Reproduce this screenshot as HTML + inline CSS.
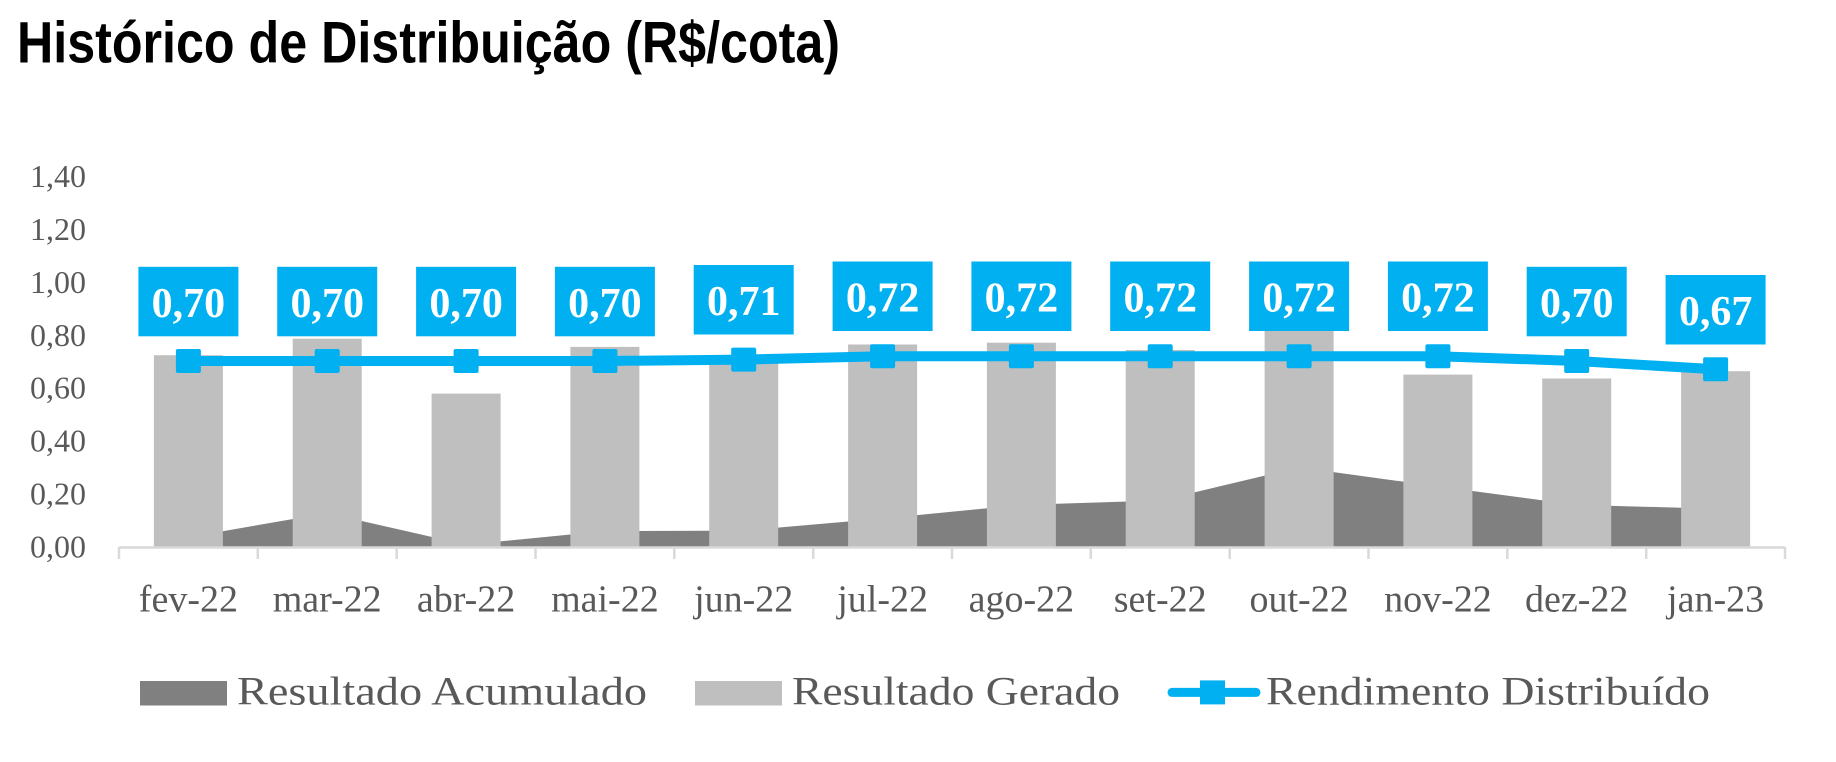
<!DOCTYPE html>
<html><head><meta charset="utf-8"><style>
html,body{margin:0;padding:0;background:#fff;}
svg{display:block;}
</style></head><body>
<svg width="1836" height="762" viewBox="0 0 1836 762" xmlns="http://www.w3.org/2000/svg">
<text x="17" y="62.5" font-family="Liberation Sans, Arial, sans-serif" font-weight="bold" font-size="58" textLength="823" lengthAdjust="spacingAndGlyphs" fill="#000">Histórico de Distribuição (R$/cota)</text>

<g font-family="Liberation Serif, serif" font-size="32" fill="#595959" text-anchor="end">
<text x="86" y="557.6">0,00</text>
<text x="86" y="504.6">0,20</text>
<text x="86" y="451.7">0,40</text>
<text x="86" y="398.7">0,60</text>
<text x="86" y="345.8">0,80</text>
<text x="86" y="292.8">1,00</text>
<text x="86" y="239.8">1,20</text>
<text x="86" y="186.9">1,40</text>
</g>

<polygon fill="#808080" points="188.4,546.6 188.4,537.2 327.2,513.1 466.1,544.7 604.9,531.1 743.7,530.6 882.6,518.5 1021.4,504.9 1160.2,500.5 1299.1,467.4 1437.9,486.4 1576.7,504.9 1715.6,508.7 1715.6,546.6"/>

<g fill="#bfbfbf">
<rect x="153.9" y="355.2" width="69" height="191.4"/>
<rect x="292.7" y="338.7" width="69" height="207.9"/>
<rect x="431.6" y="393.6" width="69" height="153"/>
<rect x="570.4" y="346.9" width="69" height="199.7"/>
<rect x="709.2" y="360" width="69" height="186.6"/>
<rect x="848.1" y="344.5" width="69" height="202.1"/>
<rect x="986.9" y="342.7" width="69" height="203.9"/>
<rect x="1125.7" y="350" width="69" height="196.6"/>
<rect x="1264.6" y="322" width="69" height="224.6"/>
<rect x="1403.4" y="374.6" width="69" height="172"/>
<rect x="1542.2" y="378.5" width="69" height="168.1"/>
<rect x="1681.1" y="371.2" width="69" height="175.4"/>
</g>

<g stroke="#d9d9d9" stroke-width="2.5">
<line x1="119" y1="547.5" x2="1785" y2="547.5"/>
<line x1="119" y1="547" x2="119" y2="559"/>
<line x1="257.8" y1="547" x2="257.8" y2="559"/>
<line x1="396.7" y1="547" x2="396.7" y2="559"/>
<line x1="535.5" y1="547" x2="535.5" y2="559"/>
<line x1="674.3" y1="547" x2="674.3" y2="559"/>
<line x1="813.2" y1="547" x2="813.2" y2="559"/>
<line x1="952" y1="547" x2="952" y2="559"/>
<line x1="1090.8" y1="547" x2="1090.8" y2="559"/>
<line x1="1229.7" y1="547" x2="1229.7" y2="559"/>
<line x1="1368.5" y1="547" x2="1368.5" y2="559"/>
<line x1="1507.3" y1="547" x2="1507.3" y2="559"/>
<line x1="1646.2" y1="547" x2="1646.2" y2="559"/>
<line x1="1785" y1="547" x2="1785" y2="559"/>
</g>

<polyline fill="none" stroke="#00b0f0" stroke-width="10" stroke-linejoin="round" points="188.4,361 327.2,361 466.1,361 604.9,361 743.7,359.6 882.6,356.2 1021.4,356.2 1160.2,356.2 1299.1,356.2 1437.9,356.2 1576.7,361 1715.6,369.3"/>
<g fill="#00b0f0">
<rect x="175.9" y="349" width="25" height="24" rx="2"/>
<rect x="314.7" y="349" width="25" height="24" rx="2"/>
<rect x="453.6" y="349" width="25" height="24" rx="2"/>
<rect x="592.4" y="349" width="25" height="24" rx="2"/>
<rect x="731.2" y="347.6" width="25" height="24" rx="2"/>
<rect x="870.1" y="344.2" width="25" height="24" rx="2"/>
<rect x="1008.9" y="344.2" width="25" height="24" rx="2"/>
<rect x="1147.7" y="344.2" width="25" height="24" rx="2"/>
<rect x="1286.6" y="344.2" width="25" height="24" rx="2"/>
<rect x="1425.4" y="344.2" width="25" height="24" rx="2"/>
<rect x="1564.2" y="349" width="25" height="24" rx="2"/>
<rect x="1703.1" y="357.3" width="25" height="24" rx="2"/>
</g>

<g fill="#00b0f0">
<rect x="138.4" y="266.8" width="100" height="69.5"/>
<rect x="277.2" y="266.8" width="100" height="69.5"/>
<rect x="416.1" y="266.8" width="100" height="69.5"/>
<rect x="554.9" y="266.8" width="100" height="69.5"/>
<rect x="693.7" y="265" width="100" height="69.5"/>
<rect x="832.6" y="261.5" width="100" height="69.5"/>
<rect x="971.4" y="261.5" width="100" height="69.5"/>
<rect x="1110.2" y="261.5" width="100" height="69.5"/>
<rect x="1249.1" y="261.5" width="100" height="69.5"/>
<rect x="1387.9" y="261.5" width="100" height="69.5"/>
<rect x="1526.7" y="266.8" width="100" height="69.5"/>
<rect x="1665.6" y="275" width="100" height="69.5"/>
</g>
<g font-family="Liberation Serif, serif" font-weight="bold" font-size="42" fill="#fff" text-anchor="middle">
<text x="188.4" y="317">0,70</text>
<text x="327.2" y="317">0,70</text>
<text x="466.1" y="317">0,70</text>
<text x="604.9" y="317">0,70</text>
<text x="743.7" y="315.2">0,71</text>
<text x="882.6" y="311.7">0,72</text>
<text x="1021.4" y="311.7">0,72</text>
<text x="1160.2" y="311.7">0,72</text>
<text x="1299.1" y="311.7">0,72</text>
<text x="1437.9" y="311.7">0,72</text>
<text x="1576.7" y="317">0,70</text>
<text x="1715.6" y="325.2">0,67</text>
</g>

<g font-family="Liberation Serif, serif" font-size="38" fill="#595959" text-anchor="middle">
<text x="188.4" y="611.5">fev-22</text>
<text x="327.2" y="611.5">mar-22</text>
<text x="466.1" y="611.5">abr-22</text>
<text x="604.9" y="611.5">mai-22</text>
<text x="743.7" y="611.5">jun-22</text>
<text x="882.6" y="611.5">jul-22</text>
<text x="1021.4" y="611.5">ago-22</text>
<text x="1160.2" y="611.5">set-22</text>
<text x="1299.1" y="611.5">out-22</text>
<text x="1437.9" y="611.5">nov-22</text>
<text x="1576.7" y="611.5">dez-22</text>
<text x="1715.6" y="611.5">jan-23</text>
</g>

<rect x="140" y="681" width="87" height="24.5" fill="#808080"/>
<rect x="695" y="681" width="87" height="24.5" fill="#bfbfbf"/>
<line x1="1172" y1="692.4" x2="1256" y2="692.4" stroke="#00b0f0" stroke-width="9" stroke-linecap="round"/>
<rect x="1200" y="680.4" width="25" height="24" fill="#00b0f0"/>
<g font-family="Liberation Serif, serif" font-size="40" fill="#595959">
<text x="237" y="704.6" textLength="410" lengthAdjust="spacingAndGlyphs">Resultado Acumulado</text>
<text x="792" y="704.6" textLength="328" lengthAdjust="spacingAndGlyphs">Resultado Gerado</text>
<text x="1266" y="704.6" textLength="444" lengthAdjust="spacingAndGlyphs">Rendimento Distribuído</text>
</g>
</svg>
</body></html>
